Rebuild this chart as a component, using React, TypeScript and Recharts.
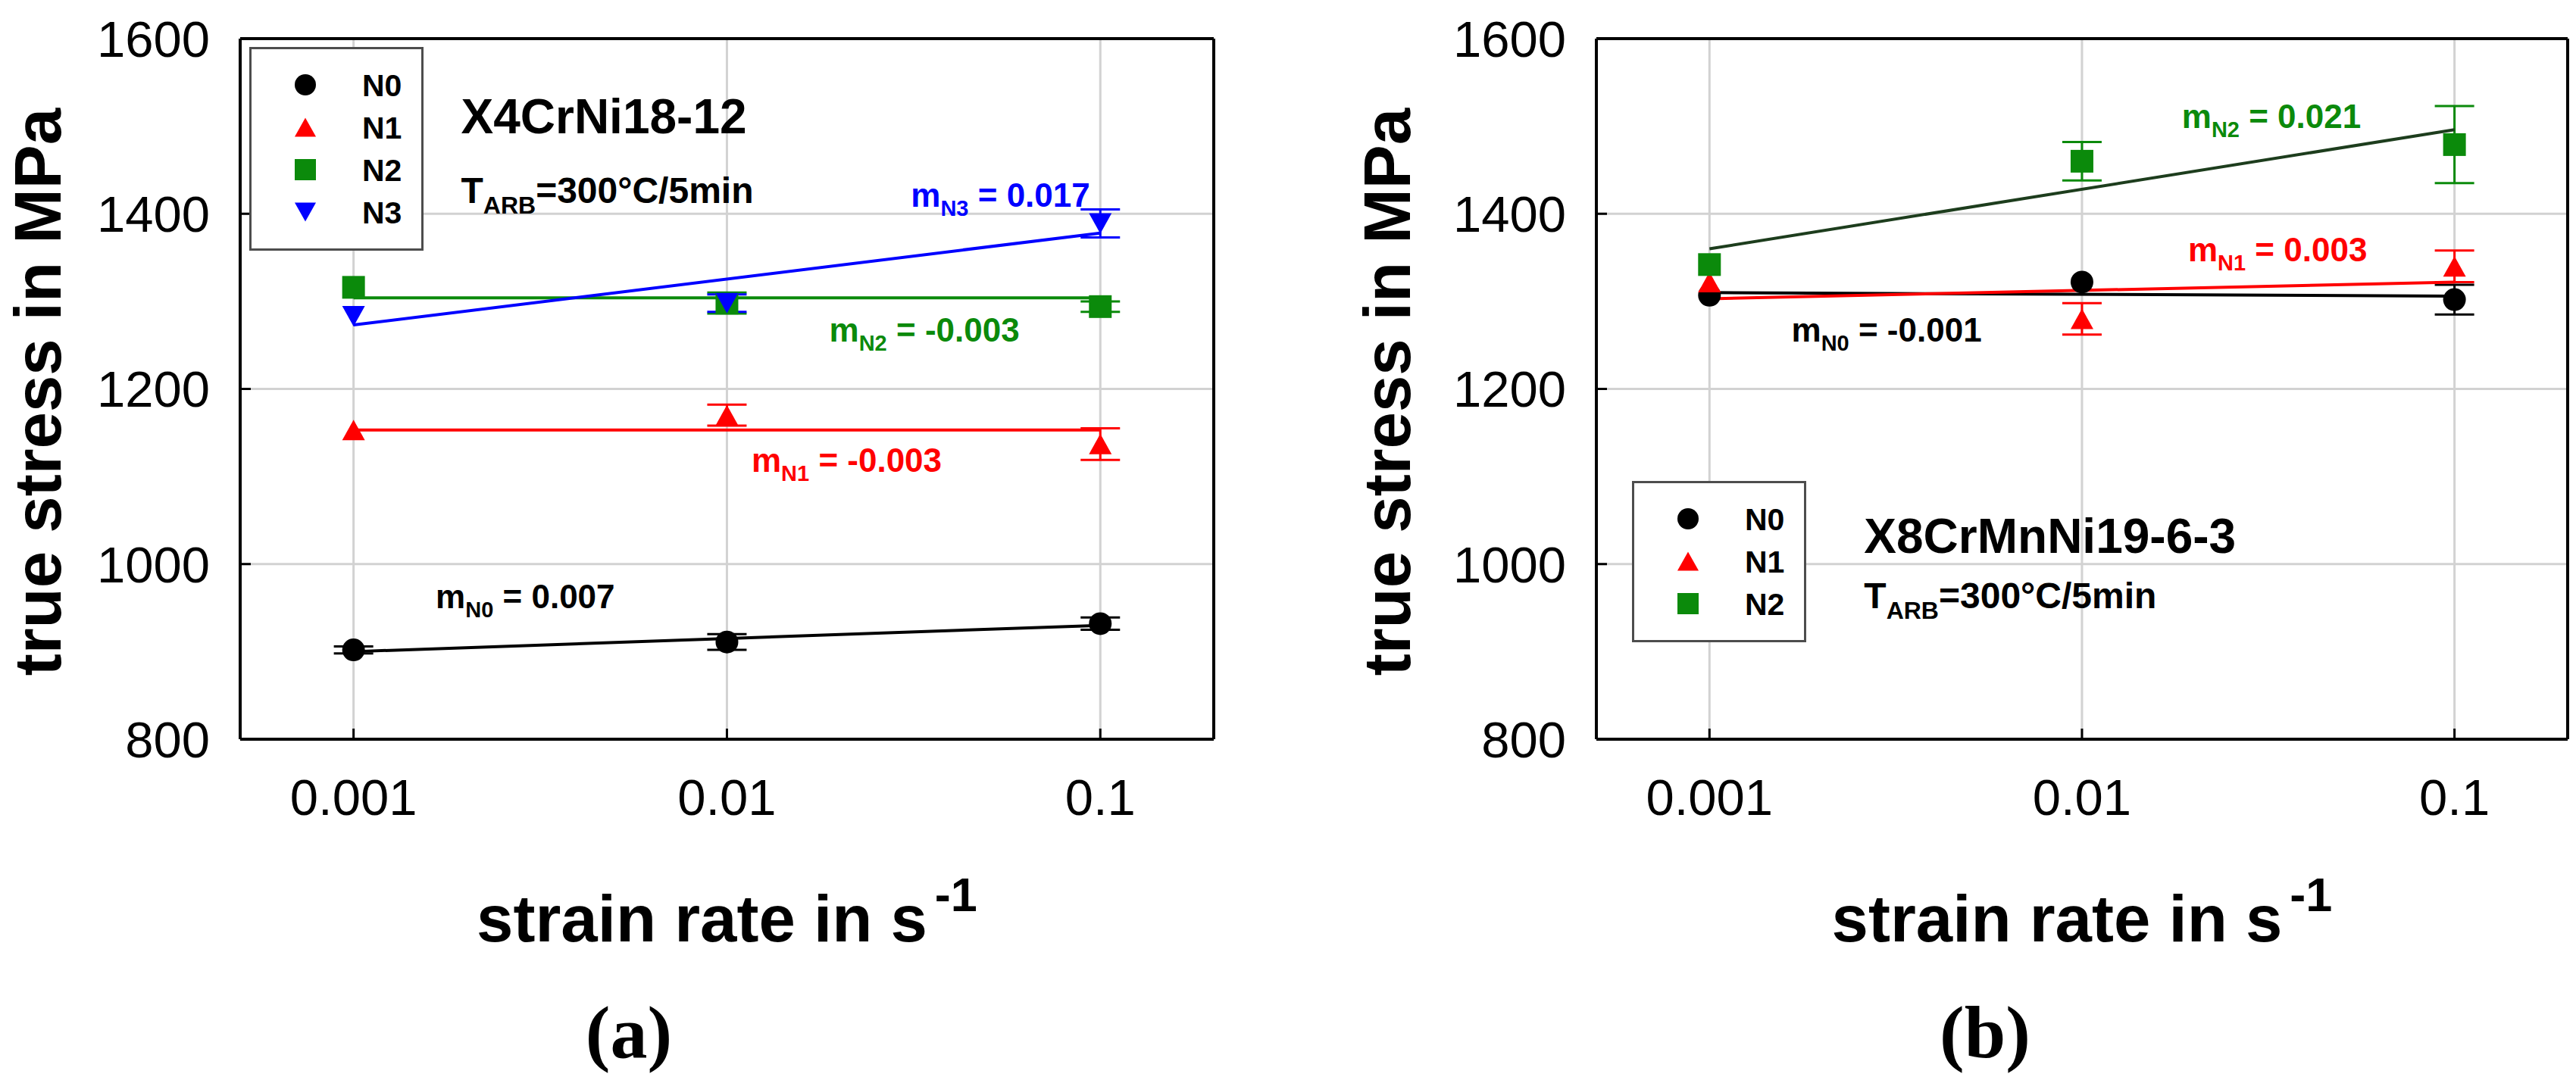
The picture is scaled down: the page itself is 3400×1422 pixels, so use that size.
import React from 'react';
import {
  CartesianGrid,
  ComposedChart,
  ErrorBar,
  Legend,
  ReferenceDot,
  Scatter,
  XAxis,
  YAxis,
} from 'recharts';

const FONT = '"Liberation Sans", Arial, sans-serif';
const SERIF = '"Liberation Serif", "Times New Roman", serif';

// shared axes
const STRAIN_RATES = [0.001, 0.01, 0.1];
const FIT_RATES = [0.001, 0.1];
const X_TICKS = [0.001, 0.01, 0.1];
const Y_TICKS = [800, 1000, 1200, 1400, 1600];
const X_DOMAIN = [0.000497, 0.2013];
const Y_DOMAIN = [800, 1600];

// (a) X4CrNi18-12, true stress in MPa
const A_N0 = [902, 911, 932];
const A_N0_ERR = [4, 9, 7];
const A_N1 = [1153, 1170, 1137];
const A_N1_ERR = [0, 12, 18];
const A_N2 = [1316, 1298, 1294];
const A_N2_ERR = [0, 12, 6];
const A_N3 = [1283, 1298, 1389];
const A_N3_ERR = [0, 10, 16];
const A_FIT_N0 = [900, 930];
const A_FIT_N1 = [1153, 1153];
const A_FIT_N2 = [1304, 1304];
const A_FIT_N3 = [1273, 1378];

// (b) X8CrMnNi19-6-3
const B_N0 = [1307, 1322, 1302];
const B_N0_ERR = [0, 0, 17];
const B_N1 = [1322, 1280, 1340];
const B_N1_ERR = [0, 18, 18];
const B_N2 = [1342, 1460, 1479];
const B_N2_ERR = [0, 22, 44];
const B_FIT_N0 = [1310, 1306];
const B_FIT_N1 = [1303, 1322];
const B_FIT_N2 = [1360, 1496];

const RED = '#ff0000';
const GREEN = '#0b8a0b';
const BLUE = '#0000ff';

type Kind = 'circle' | 'up' | 'square' | 'down';

interface Series {
  name: string;
  kind: Kind;
  color: string;
  values: number[];
  errors: number[];
  fit: number[];
  fitColor: string;
}

const SERIES_A: Series[] = [
  { name: 'N0', kind: 'circle', color: '#000', values: A_N0, errors: A_N0_ERR, fit: A_FIT_N0, fitColor: '#000' },
  { name: 'N1', kind: 'up', color: RED, values: A_N1, errors: A_N1_ERR, fit: A_FIT_N1, fitColor: RED },
  { name: 'N2', kind: 'square', color: GREEN, values: A_N2, errors: A_N2_ERR, fit: A_FIT_N2, fitColor: GREEN },
  { name: 'N3', kind: 'down', color: BLUE, values: A_N3, errors: A_N3_ERR, fit: A_FIT_N3, fitColor: BLUE },
];

const SERIES_B: Series[] = [
  { name: 'N0', kind: 'circle', color: '#000', values: B_N0, errors: B_N0_ERR, fit: B_FIT_N0, fitColor: '#000' },
  { name: 'N1', kind: 'up', color: RED, values: B_N1, errors: B_N1_ERR, fit: B_FIT_N1, fitColor: RED },
  { name: 'N2', kind: 'square', color: GREEN, values: B_N2, errors: B_N2_ERR, fit: B_FIT_N2, fitColor: '#1d3d1d' },
];

// text placed in data coordinates (x = strain rate, y = stress at baseline)
const NOTES_A = [
  { x: 0.00194, y: 1492, type: 'title', text: 'X4CrNi18-12' },
  { x: 0.00194, y: 1412, type: 'temp' },
  { x: 0.0311, y: 1408, type: 'm', sub: 'N3', text: ' = 0.017', color: BLUE },
  { x: 0.0188, y: 1254, type: 'm', sub: 'N2', text: ' = -0.003', color: GREEN },
  { x: 0.01164, y: 1105, type: 'm', sub: 'N1', text: ' = -0.003', color: RED },
  { x: 0.00166, y: 950, type: 'm', sub: 'N0', text: ' = 0.007', color: '#000' },
];

const NOTES_B = [
  { x: 0.0026, y: 1013, type: 'title', text: 'X8CrMnNi19-6-3' },
  { x: 0.0026, y: 950, type: 'temp' },
  { x: 0.01854, y: 1498, type: 'm', sub: 'N2', text: ' = 0.021', color: GREEN },
  { x: 0.01926, y: 1346, type: 'm', sub: 'N1', text: ' = 0.003', color: RED },
  { x: 0.00166, y: 1254, type: 'm', sub: 'N0', text: ' = -0.001', color: '#000' },
];

function Marker({ cx, cy, kind, color, size = 15 }: { cx: number; cy: number; kind: Kind; color: string; size?: number }) {
  if (cx == null || cy == null) return <g />;
  if (kind === 'circle') return <circle cx={cx} cy={cy} r={size} fill={color} />;
  if (kind === 'square') {
    return <rect x={cx - size} y={cy - size} width={size * 2} height={size * 2} fill={color} />;
  }
  const h = size * 0.9;
  if (kind === 'up') {
    return <polygon points={`${cx},${cy - h} ${cx + size},${cy + h} ${cx - size},${cy + h}`} fill={color} />;
  }
  return <polygon points={`${cx},${cy + h} ${cx + size},${cy - h} ${cx - size},${cy - h}`} fill={color} />;
}

function Note({ cx, cy, note }: { cx: number; cy: number; note: any }) {
  if (note.type === 'title') {
    return (
      <text x={cx} y={cy} fontFamily={FONT} fontWeight="bold" fontSize={64} fill="#000">
        {note.text}
      </text>
    );
  }
  if (note.type === 'temp') {
    return (
      <text x={cx} y={cy} fontFamily={FONT} fontWeight="bold" fontSize={48} fill="#000">
        T
        <tspan dy={14} fontSize={32}>ARB</tspan>
        <tspan dy={-14}>=300°C/5min</tspan>
      </text>
    );
  }
  return (
    <text x={cx} y={cy} fontFamily={FONT} fontWeight="bold" fontSize={44} fill={note.color}>
      m
      <tspan dy={12} fontSize={29}>{note.sub}</tspan>
      <tspan dy={-12}>{note.text}</tspan>
    </text>
  );
}

function LegendBox({ series, height }: { series: Series[]; height: number }) {
  return (
    <svg width={230} height={height} style={{ display: 'block' }}>
      <rect x={1.5} y={1.5} width={227} height={height - 3} fill="#fff" stroke="#4d4d4d" strokeWidth={3} />
      {series.map((s, i) => (
        <g key={s.name}>
          <Marker cx={74} cy={50 + i * 56} kind={s.kind} color={s.color} size={14} />
          <text x={149} y={50 + i * 56 + 15} fontFamily={FONT} fontWeight="bold" fontSize={41} fill="#000">
            {s.name}
          </text>
        </g>
      ))}
    </svg>
  );
}

interface PanelProps {
  left: number;
  width: number;
  yAxisWidth: number;
  marginRight: number;
  yLabelX: number;
  legendLeft: number;
  legendTop: number;
  series: Series[];
  notes: any[];
  caption: string;
  captionX: number;
}

function Panel(p: PanelProps) {
  const yLabel = (props: any) => {
    const vb = props.viewBox;
    const cy = vb.y + vb.height / 2 + 4;
    return (
      <text
        x={p.yLabelX}
        y={cy}
        transform={`rotate(-90, ${p.yLabelX}, ${cy})`}
        textAnchor="middle"
        fontFamily={FONT}
        fontWeight="bold"
        fontSize={87}
        fill="#000"
      >
        true stress in MPa
      </text>
    );
  };

  const xLabel = (props: any) => {
    const vb = props.viewBox;
    return (
      <text
        x={vb.x + vb.width / 2}
        y={vb.y + 267}
        textAnchor="middle"
        fontFamily={FONT}
        fontWeight="bold"
        fontSize={87}
        fill="#000"
      >
        strain rate in s
        <tspan dx={10} dy={-40} fontSize={63}>-1</tspan>
      </text>
    );
  };

  const legendHeight = 50 + 56 * (p.series.length - 1) + 51;
  const tickStyle = { fontSize: 67, fill: '#000', fontFamily: FONT };

  return (
    <div style={{ position: 'absolute', left: p.left, top: 0 }}>
      <ComposedChart
        width={p.width}
        height={1276}
        margin={{ top: 50, right: p.marginRight, bottom: 0, left: 0 }}
      >
        <CartesianGrid stroke="#d2d2d2" strokeWidth={3} />
        <XAxis
          dataKey="x"
          type="number"
          scale="log"
          domain={X_DOMAIN}
          ticks={X_TICKS}
          height={300}
          axisLine={{ stroke: '#000', strokeWidth: 4 }}
          tickLine={{ stroke: '#000', strokeWidth: 3 }}
          tickSize={-14}
          tickMargin={66}
          tick={tickStyle}
          label={xLabel}
        />
        <XAxis
          xAxisId="top"
          orientation="top"
          dataKey="x"
          type="number"
          scale="log"
          domain={X_DOMAIN}
          ticks={X_TICKS}
          height={1}
          axisLine={{ stroke: '#000', strokeWidth: 4 }}
          tickLine={{ stroke: '#000', strokeWidth: 3 }}
          tickSize={-14}
          tick={false}
        />
        <YAxis
          dataKey="y"
          type="number"
          domain={Y_DOMAIN}
          ticks={Y_TICKS}
          width={p.yAxisWidth}
          axisLine={{ stroke: '#000', strokeWidth: 4 }}
          tickLine={{ stroke: '#000', strokeWidth: 3 }}
          tickSize={-14}
          tickMargin={54}
          tick={tickStyle}
          label={yLabel}
        />
        <YAxis
          yAxisId="right"
          orientation="right"
          dataKey="y"
          type="number"
          domain={Y_DOMAIN}
          ticks={Y_TICKS}
          width={1}
          axisLine={{ stroke: '#000', strokeWidth: 4 }}
          tickLine={{ stroke: '#000', strokeWidth: 3 }}
          tickSize={-14}
          tick={false}
        />
        {p.series.map((s) => (
          <Scatter
            key={`fit-${s.name}`}
            name={`fit ${s.name}`}
            data={FIT_RATES.map((x, i) => ({ x, y: s.fit[i] }))}
            line={{ stroke: s.fitColor, strokeWidth: 4 }}
            shape={() => <g />}
            legendType="none"
            isAnimationActive={false}
          />
        ))}
        {p.series.map((s) => (
          <Scatter
            key={s.name}
            name={s.name}
            data={STRAIN_RATES.map((x, i) => ({ x, y: s.values[i], err: s.errors[i] }))}
            shape={(props: any) => <Marker cx={props.cx} cy={props.cy} kind={s.kind} color={s.color} />}
            isAnimationActive={false}
          >
            <ErrorBar dataKey="err" direction="y" width={26} strokeWidth={3} stroke={s.color} />
          </Scatter>
        ))}
        {p.notes.map((n, i) => (
          <ReferenceDot
            key={i}
            x={n.x}
            y={n.y}
            r={0}
            shape={(props: any) => <Note cx={props.cx} cy={props.cy} note={n} />}
          />
        ))}
        <Legend
          layout="vertical"
          align="center"
          verticalAlign="middle"
          wrapperStyle={{ left: p.legendLeft, top: p.legendTop, width: 230, height: legendHeight }}
          content={() => <LegendBox series={p.series} height={legendHeight} />}
        />
      </ComposedChart>
      <div
        style={{
          position: 'absolute',
          left: p.captionX - 100,
          top: 1314,
          width: 200,
          textAlign: 'center',
          fontFamily: SERIF,
          fontWeight: 'bold',
          fontSize: 98,
          lineHeight: '98px',
        }}
      >
        {p.caption}
      </div>
    </div>
  );
}

export default function App() {
  return (
    <div style={{ position: 'absolute', left: 0, top: 0, width: 3400, height: 1422, background: '#fff', overflow: 'hidden' }}>
      <Panel
        left={0}
        width={1640}
        yAxisWidth={317}
        marginRight={37}
        yLabelX={80}
        legendLeft={329}
        legendTop={62}
        series={SERIES_A}
        notes={NOTES_A}
        caption="(a)"
        captionX={830}
      />
      <Panel
        left={1700}
        width={1700}
        yAxisWidth={407}
        marginRight={10}
        yLabelX={161}
        legendLeft={454}
        legendTop={635}
        series={SERIES_B}
        notes={NOTES_B}
        caption="(b)"
        captionX={920}
      />
    </div>
  );
}
